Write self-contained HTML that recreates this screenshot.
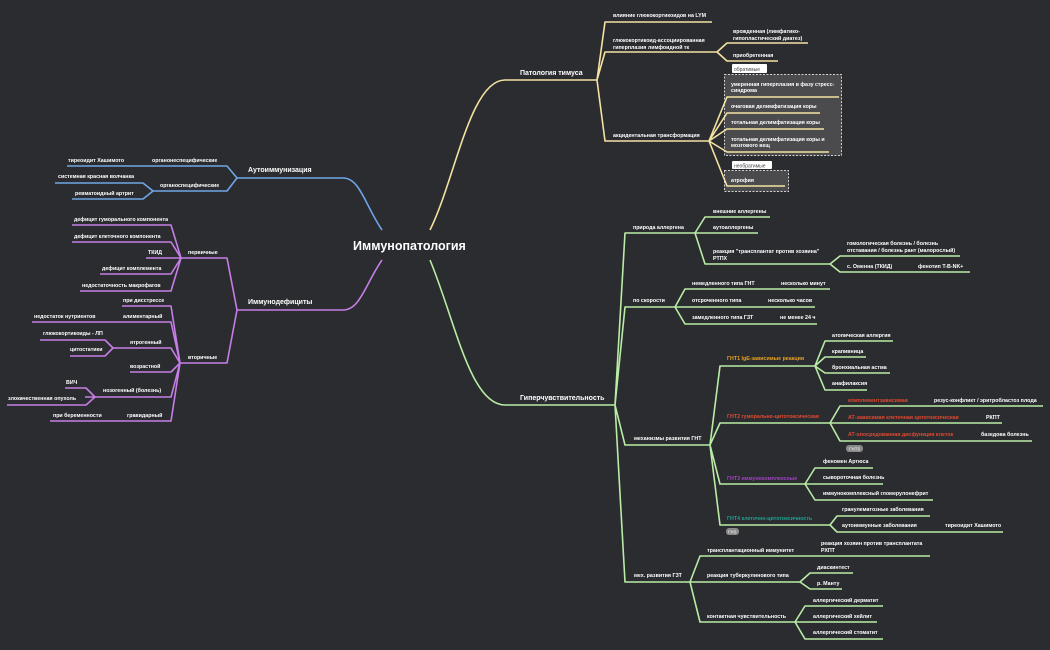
<!DOCTYPE html>
<html><head><meta charset="utf-8"><style>
html,body{margin:0;padding:0;background:#2b2c30;}
svg{display:block;}
text{font-family:"Liberation Sans",sans-serif;fill:#fff;font-size:5.3px;font-weight:bold;}
.y{stroke:#f3e2a2;fill:none;stroke-width:1.6;stroke-linejoin:round}
.g{stroke:#b9eca4;fill:none;stroke-width:1.6;stroke-linejoin:round}
.b{stroke:#6ea6e6;fill:none;stroke-width:1.6;stroke-linejoin:round}
.p{stroke:#c67ee6;fill:none;stroke-width:1.6;stroke-linejoin:round}
.m{font-size:7px}
</style></head><body>
<svg width="1050" height="650" viewBox="0 0 1050 650" xmlns="http://www.w3.org/2000/svg">
<rect width="1050" height="650" fill="#2b2c30"/>
<!-- main trunks -->
<path class="y" d="M430 230 C455 180 470 80 505 80 L597 80" stroke-width="2"/>
<path class="g" d="M430 260 C455 320 470 405 505 405 L615 405" stroke-width="2"/>
<path class="b" d="M382 230 C365 205 360 178 343 178 L237 178" stroke-width="2"/>
<path class="p" d="M382 260 C365 285 360 310 343 310 L237 310" stroke-width="2"/>
<text x="353" y="250" style="font-size:12.5px">Иммунопатология</text>
<text class="m" x="520" y="75">Патология тимуса</text>
<text class="m" x="520" y="400">Гиперчувствительность</text>
<text class="m" x="248" y="172">Аутоиммунизация</text>
<text class="m" x="248" y="304">Иммунодефициты</text>

<!-- thymus -->
<path class="y" d="M597 80 L605 22 L712 22 M597 80 L605 52 L717 52 M597 80 L605 141 L709 141"/>
<text x="613" y="17">влияние глюкокортикоидов на LYM</text>
<text x="613" y="42">глюкокортикоид-ассоциированная</text>
<text x="613" y="49">гиперплазия лимфоидной тк</text>
<text x="613" y="137">акцидентальная трансформация</text>
<path class="y" d="M717 52 L727 43 L808 43 M717 52 L727 61 L778 61"/>
<text x="733" y="33">врожденная (лимфатико-</text>
<text x="733" y="40">гипопластический диатез)</text>
<text x="733" y="57">приобретенная</text>
<rect x="724.5" y="74.5" width="117" height="81" fill="#4b4b4e" stroke="#d0d0d0" stroke-dasharray="2,1.5"/>
<rect x="732" y="64" width="35" height="9" rx="1" fill="#fff"/>
<text x="734" y="71" style="fill:#444;font-weight:normal;font-size:5px">обратимые</text>
<rect x="724.5" y="170.5" width="64" height="21" fill="#4b4b4e" stroke="#d0d0d0" stroke-dasharray="2,1.5"/>
<rect x="732" y="161" width="40" height="8" rx="1" fill="#fff"/>
<text x="734" y="167.5" style="fill:#444;font-weight:normal;font-size:5px">необратимые</text>
<path class="y" d="M709 141 L727 97 L839 97 M709 141 L727 113 L820 113 M709 141 L727 129 L824 129 M709 141 L727 152 L829 152 M709 141 L727 186 L785 186"/>
<text x="731" y="86">умеренная гиперплазия в фазу стресс-</text>
<text x="731" y="92">синдрома</text>
<text x="731" y="108">очаговая делимфатизация коры</text>
<text x="731" y="124">тотальная делимфатизация коры</text>
<text x="731" y="141">тотальная делимфатизация коры и</text>
<text x="731" y="147">мозгового вещ</text>
<text x="731" y="182">атрофия</text>

<!-- hypersensitivity -->
<path class="g" d="M615 405 L625 233 L695 233 M615 405 L625 307 L675 307 M615 405 L625 445 L710 445 M615 405 L625 582 L690 582"/>
<text x="633" y="229">природа аллергена</text>
<text x="633" y="302">по скорости</text>
<text x="634" y="440">механизмы развития ГНТ</text>
<text x="634" y="577">мех. развития ГЗТ</text>
<path class="g" d="M695 233 L705 217 L770 217 M695 233 L705 233 L758 233 M695 233 L705 264 L830 264"/>
<text x="713" y="213">внешние аллергены</text>
<text x="713" y="229">аутоаллергены</text>
<text x="713" y="253">реакция "трансплантат против хозяина"</text>
<text x="713" y="260">РТПХ</text>
<path class="g" d="M830 264 L840 256 L960 256 M830 264 L840 272 L970 272"/>
<text x="847" y="245">гомологическая болезнь / болезнь</text>
<text x="847" y="252">отставания / болезнь рант (малорослый)</text>
<text x="847" y="268">с. Оменна (ТКИД)</text>
<text x="918" y="268">фенотип  T-B-NK+</text>
<path class="g" d="M675 307 L685 289 L830 289 M675 307 L685 307 L815 307 M675 307 L685 324 L817 324"/>
<text x="692" y="285">немедленного типа ГНТ</text><text x="781" y="285">несколько минут</text>
<text x="692" y="302">отсроченного типа</text><text x="768" y="302">несколько часов</text>
<text x="692" y="319">замедленного типа ГЗТ</text><text x="780" y="319">не менее 24 ч</text>
<!-- GNT mechanisms -->
<path class="g" d="M710 445 L720 366 L815 366 M710 445 L720 423 L830 423 M710 445 L720 484 L805 484 M710 445 L720 525 L830 525"/>
<text x="727" y="360" style="fill:#e8a020">ГНТ1 IgE-зависимые реакции</text>
<text x="727" y="418" style="fill:#e04a30">ГНТ2 гуморально-цитотоксическая</text>
<text x="727" y="480" style="fill:#a040c0">ГНТ3 иммунокомплексные</text>
<text x="727" y="520" style="fill:#20a090">ГНТ4 клеточно-цитотоксичность</text>
<path class="g" d="M815 366 L825 341 L893 341 M815 366 L825 357 L866 357 M815 366 L825 373 L890 373 M815 366 L825 390 L867 390"/>
<text x="832" y="337">атопическая аллергия</text>
<text x="832" y="353">крапивница</text>
<text x="832" y="369">бронхиальная астма</text>
<text x="832" y="385">анафилаксия</text>
<path class="g" d="M830 423 L840 406 L1043 406 M830 423 L840 423 L1002 423 M830 423 L840 441 L1032 441"/>
<text x="848" y="402" style="fill:#e04a30">комплементзависимая</text><text x="934" y="402">резус-конфликт / эритробластоз плода</text>
<text x="848" y="419" style="fill:#e04a30">АТ-зависимая клеточная цитотоксическая</text><text x="986" y="419">РКПТ</text>
<text x="848" y="436" style="fill:#e04a30">АТ-опосредованная дисфункция клеток</text><text x="981" y="436">базедова болезнь</text>
<rect x="846" y="445" width="17" height="7" rx="3" fill="#888"/><text x="849" y="450.5" style="font-size:4.5px;fill:#ddd">ГНТ5</text>
<path class="g" d="M805 484 L815 468 L873 468 M805 484 L815 484 L883 484 M805 484 L815 500 L933 500"/>
<text x="823" y="463">феномен Артюса</text>
<text x="823" y="479">сывороточная болезнь</text>
<text x="823" y="495">иммунокомплексный гломерулонефрит</text>
<path class="g" d="M830 525 L837 516 L930 516 M830 525 L837 532 L1003 532"/>
<text x="842" y="511">гранулематозные заболевания</text>
<text x="842" y="527">аутоиммунные заболевания</text><text x="945" y="527">тиреоидит Хашимото</text>
<rect x="726" y="528" width="13" height="7" rx="3" fill="#888"/><text x="728" y="533.5" style="font-size:4.5px;fill:#ddd">ГНЗ</text>
<!-- GZT -->
<path class="g" d="M690 582 L700 556 L930 556 M690 582 L700 582 L800 582 M690 582 L700 622 L795 622"/>
<text x="707" y="552">трансплантационный иммунитет</text>
<text x="821" y="545">реакция хозяин против трансплантата</text>
<text x="821" y="552">РХПТ</text>
<text x="707" y="577">реакция туберкулинового типа</text>
<text x="707" y="618">контактная чувствительность</text>
<path class="g" d="M800 582 L810 573 L853 573 M800 582 L810 589 L842 589"/>
<text x="817" y="569">диаскинтест</text>
<text x="817" y="585">р. Манту</text>
<path class="g" d="M795 622 L805 606 L883 606 M795 622 L805 622 L877 622 M795 622 L805 639 L883 639"/>
<text x="813" y="602">аллергический дерматит</text>
<text x="813" y="618">аллергический хейлит</text>
<text x="813" y="634">аллергический стоматит</text>

<!-- autoimmunization -->
<path class="b" d="M237 178 L227 166 L67 166 M237 178 L227 191 L153 191"/>
<text x="152" y="162">органонеспецифические</text>
<text x="68" y="162">тиреоидит Хашимото</text>
<text x="160" y="187">органоспецифические</text>
<path class="b" d="M153 191 L143 183 L55 183 M153 191 L143 199 L72 199"/>
<text x="58" y="178">системная красная волчанка</text>
<text x="75" y="195">ревматоидный артрит</text>

<!-- immunodeficiency -->
<path class="p" d="M237 310 L227 258 L180 258 M237 310 L227 363 L180 363"/>
<text x="188" y="254">первичные</text>
<text x="188" y="359">вторичные</text>
<path class="p" d="M181 258 L171 225 L72 225 M181 258 L171 242 L72 242 M181 258 L146 258 M181 258 L171 274 L100 274 M181 258 L171 291 L80 291"/>
<text x="74" y="221">дефицит гуморального компонента</text>
<text x="74" y="238">дефицит клеточного компонента</text>
<text x="148" y="254">ТКИД</text>
<text x="102" y="270">дефицит комплемента</text>
<text x="82" y="287">недостаточность макрофагов</text>
<path class="p" d="M180 363 L171 306 L122 306 M180 363 L171 322 L32 322 M180 363 L171 348 L113 348 M180 363 L171 372 L130 372 M180 363 L171 397 L85 397 M180 363 L171 421 L50 421"/>
<text x="123" y="302">при дисстрессе</text>
<text x="123" y="318">алиментарный</text><text x="34" y="318">недостаток нутриентов</text>
<text x="130" y="344">ятрогенный</text>
<text x="130" y="368">возрастной</text>
<text x="103" y="392">нозогенный (болезнь)</text>
<text x="127" y="417">гравидарный</text><text x="53" y="417">при беременности</text>
<path class="p" d="M113 348 L105 340 L40 340 M113 348 L105 356 L70 356"/>
<text x="43" y="335">глюкокортикоиды - ЛП</text>
<text x="70" y="351">цитостатики</text>
<path class="p" d="M95 397 L86 388 L65 388 M95 397 L86 405 L7 405"/>
<text x="66" y="384">ВИЧ</text>
<text x="8" y="400">злокачественная опухоль</text>
</svg>
</body></html>
